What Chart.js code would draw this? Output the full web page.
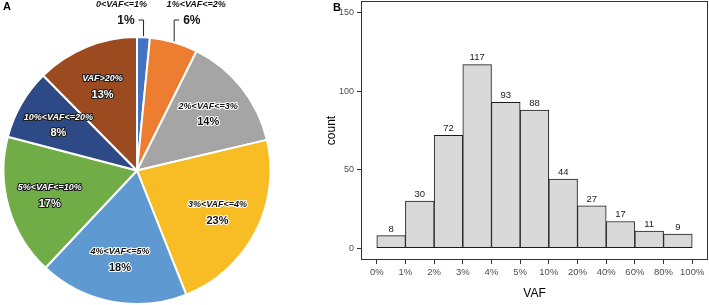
<!DOCTYPE html>
<html>
<head>
<meta charset="utf-8">
<script src="https://cdn.jsdelivr.net/npm/chart.js@4.4.1/dist/chart.umd.min.js"></script>
<style>
  body { margin: 0; background: #fff; }
  #wrap { position: relative; width: 709px; height: 305px; overflow: hidden; background: #fff; }
  canvas { position: absolute; top: 0; }
  .tag { position: absolute; font: bold 11px "Liberation Sans", Arial, sans-serif; color: #000; }
</style>
</head>
<body>
<div id="wrap">
  <canvas id="pie" width="300" height="305" style="left:0"></canvas>
  <canvas id="bars" width="389" height="305" style="left:320px"></canvas>
  <div class="tag" style="left:3px;top:0px">A</div>
  <div class="tag" style="left:333px;top:1px">B</div>
</div>
<script>
// panel A: share of variants per VAF group
const pieGroups = ['0<VAF<=1%', '1%<VAF<=2%', '2%<VAF<=3%', '3%<VAF<=4%', '4%<VAF<=5%', '5%<VAF<=10%', '10%<VAF<=20%', 'VAF>20%'];
const pieCounts = [8, 30, 72, 117, 93, 88, 44, 64];
const piePercents = ['1%', '6%', '14%', '23%', '18%', '17%', '8%', '13%'];

// panel B: histogram of VAF bins
const binEdges = ['0%', '1%', '2%', '3%', '4%', '5%', '10%', '20%', '40%', '60%', '80%', '100%'];
const binCounts = [8, 30, 72, 117, 93, 88, 44, 27, 17, 11, 9];
const yTicks = [0, 50, 100, 150];

const pieColors = ['#4472C4', '#ED7D31', '#A5A5A5', '#F8BD24', '#5E99D2', '#70AD47', '#2E4A86', '#9C4A1F'];
// light text w/ dark outline on dark slices, dark text w/ white halo on light ones
const darkSlice = [false, false, false, false, false, true, true, true];
const outsideSide = [-1, 1, 0, 0, 0, 0, 0, 0]; // 0 = label inside the slice

const FONT = '"Liberation Sans", Arial, sans-serif';

function haloText(ctx, txt, x, y, font, dark) {
  ctx.font = font;
  ctx.lineJoin = 'round';
  ctx.lineWidth = 2.2;
  ctx.strokeStyle = dark ? '#1b1b1b' : '#ffffff';
  ctx.strokeText(txt, x, y);
  ctx.fillStyle = dark ? '#ffffff' : '#111111';
  ctx.fillText(txt, x, y);
}

const pieLabels = {
  id: 'pieLabels',
  afterDatasetsDraw(chart) {
    const ctx = chart.ctx;
    const arcs = chart.getDatasetMeta(0).data;
    ctx.save();
    ctx.textBaseline = 'middle';
    arcs.forEach((arc, i) => {
      const p = arc.getProps(['x', 'y', 'startAngle', 'endAngle', 'outerRadius'], true);
      const mid = (p.startAngle + p.endAngle) / 2;
      const side = outsideSide[i];
      if (side === 0) {
        const r = p.outerRadius * 0.68;
        const x = p.x + Math.cos(mid) * r;
        const y = p.y + Math.sin(mid) * r;
        ctx.textAlign = 'center';
        haloText(ctx, pieGroups[i], x, y - 8, 'italic bold 9px ' + FONT, darkSlice[i]);
        haloText(ctx, piePercents[i], x, y + 8, 'bold 11px ' + FONT, darkSlice[i]);
      } else {
        // leader line from the rim up to the label row
        const ex = p.x + Math.cos(mid) * (p.outerRadius + 1);
        const ey = p.y + Math.sin(mid) * (p.outerRadius + 1);
        const ly = 20;
        ctx.strokeStyle = '#222';
        ctx.lineWidth = 1;
        ctx.beginPath();
        ctx.moveTo(ex, ey);
        ctx.lineTo(ex, ly);
        ctx.lineTo(ex + side * 5, ly);
        ctx.stroke();
        ctx.fillStyle = '#111';
        ctx.textAlign = side < 0 ? 'right' : 'left';
        ctx.font = 'bold 12px ' + FONT;
        ctx.fillText(piePercents[i], ex + side * 9, ly + 1);
        ctx.textAlign = 'center';
        ctx.font = 'italic bold 9px ' + FONT;
        ctx.fillText(pieGroups[i], ex + side * 22, 5);
      }
    });
    ctx.restore();
  }
};

new Chart(document.getElementById('pie'), {
  type: 'pie',
  data: {
    labels: pieGroups,
    datasets: [{
      data: pieCounts,
      backgroundColor: pieColors,
      borderColor: '#ffffff',
      borderWidth: 2
    }]
  },
  options: {
    responsive: false,
    animation: false,
    layout: { padding: { left: 2, top: 36, right: 28, bottom: 0 } },
    plugins: { legend: { display: false }, tooltip: { enabled: false } }
  },
  plugins: [pieLabels]
});

const barValues = {
  id: 'barValues',
  afterDatasetsDraw(chart) {
    const ctx = chart.ctx;
    ctx.save();
    ctx.font = '9.5px ' + FONT;
    ctx.fillStyle = '#1a1a1a';
    ctx.textAlign = 'center';
    ctx.textBaseline = 'bottom';
    chart.getDatasetMeta(0).data.forEach((bar, i) => {
      ctx.fillText(String(binCounts[i]), bar.x, bar.y - 2);
    });
    ctx.restore();
  }
};

const panelBox = {
  id: 'panelBox',
  afterDraw(chart) {
    const a = chart.chartArea;
    const ctx = chart.ctx;
    ctx.save();
    ctx.strokeStyle = '#333';
    ctx.lineWidth = 1;
    ctx.strokeRect(Math.round(a.left) + 0.5, Math.round(a.top) + 0.5, Math.round(a.width) - 1, Math.round(a.height) - 1);
    ctx.restore();
  }
};

new Chart(document.getElementById('bars'), {
  type: 'bar',
  data: {
    datasets: [{
      data: binCounts.map((v, i) => ({ x: i + 0.5, y: v })),
      backgroundColor: '#D9D9D9',
      borderColor: '#1a1a1a',
      borderWidth: 1,
      borderSkipped: false,
      barPercentage: 1,
      categoryPercentage: 1
    }]
  },
  options: {
    responsive: false,
    animation: false,
    layout: { padding: { top: 1, right: 1, left: 0, bottom: 0 } },
    plugins: { legend: { display: false }, tooltip: { enabled: false } },
    scales: {
      x: {
        type: 'linear',
        offset: false,
        min: -0.55,
        max: 11.55,
        afterBuildTicks: s => { s.ticks = binEdges.map((_, i) => ({ value: i })); },
        afterFit: s => { s.height = 45; s.paddingLeft = 0; s.paddingRight = 0; },
        ticks: {
          autoSkip: false, maxRotation: 0, padding: 3,
          color: '#4d4d4d', font: { family: FONT, size: 9.5 },
          callback: (v, idx) => binEdges[idx]
        },
        grid: { drawOnChartArea: false, tickLength: 4, color: '#333', offset: false },
        border: { display: false },
        title: { display: true, text: 'VAF', color: '#000', font: { family: FONT, size: 12 } }
      },
      y: {
        min: -7.5,
        max: 157.5,
        afterBuildTicks: s => { s.ticks = yTicks.map(v => ({ value: v })); },
        afterFit: s => { s.width = 41; s.paddingTop = 0; s.paddingBottom = 0; },
        ticks: { padding: 3, color: '#4d4d4d', font: { family: FONT, size: 9 } },
        grid: { drawOnChartArea: false, tickLength: 4, color: '#333' },
        border: { display: false },
        title: { display: true, text: 'count', color: '#000', font: { family: FONT, size: 12 } }
      }
    }
  },
  plugins: [barValues, panelBox]
});
</script>
</body>
</html>
